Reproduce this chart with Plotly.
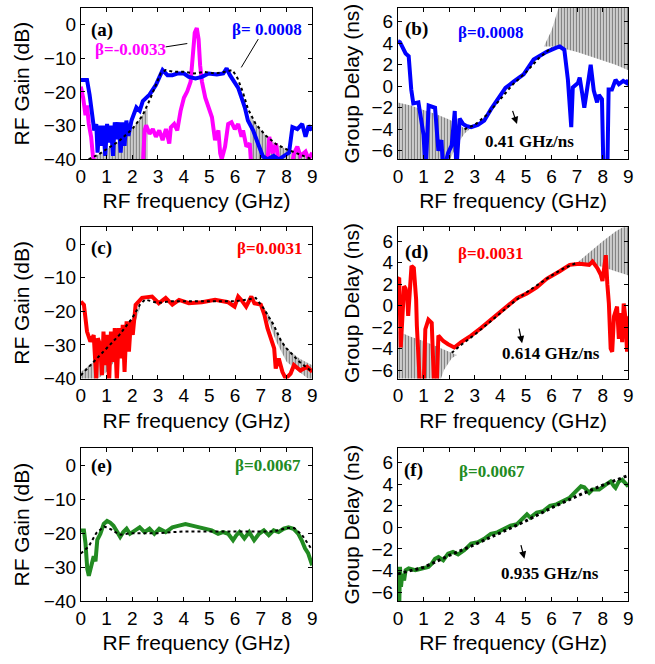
import plotly.graph_objects as go

# ---------------- data ----------------
# (a) RF gain, beta = 0.0008 (measured, blue) and beta = -0.0033 (measured, magenta)
a_blue_x = [0.0, 0.24, 0.34, 0.43, 0.52, 0.6, 0.65, 0.72, 0.8, 0.87, 0.95, 1.02, 1.1, 1.17, 1.25, 1.32, 1.4,
            1.47, 1.55, 1.62, 1.7, 1.77, 1.85, 1.97, 2.16, 2.29, 2.41, 2.67, 2.92, 3.18, 3.37, 3.56, 3.75,
            4.01, 4.2, 4.46, 4.71, 4.97, 5.29, 5.54, 5.67, 5.8, 5.99, 6.12, 6.25, 6.38, 6.5, 6.7, 6.89,
            7.08, 7.27, 7.5, 7.7, 7.9, 8.1, 8.23, 8.42, 8.61, 8.74, 8.86, 9.0]
a_blue_y = [-16.4, -16.4, -20.8, -26.6, -31.4, -29.5, -38, -30, -36, -30, -39, -29.5, -35, -30, -39, -29, -34,
            -29, -38, -29, -36, -28.5, -33, -28.5, -24.6, -25.6, -22.7, -20.8, -17.9, -13.5, -15, -15, -14.5,
            -14.5, -15.5, -16, -15.5, -14.5, -14.8, -14.5, -13, -15, -17.4, -18.8, -21.7, -24.6, -28.5, -31.4, -35.3,
            -39.1, -40, -39, -40, -39, -38, -30.4, -31, -29.5, -33.3, -30, -31.4]
a_mag_x = [0.0, 0.09, 0.18, 0.24, 0.31, 0.4, 0.47, 0.56, 2.41, 2.48, 2.54, 2.67, 2.8, 2.92, 3.05, 3.18, 3.31,
           3.44, 3.5, 3.63, 3.75, 3.88, 4.01, 4.14, 4.27, 4.36, 4.43, 4.51, 4.58, 4.64, 4.71, 4.84, 4.97,
           5.1, 5.22, 5.35, 5.42, 5.48, 5.61, 5.73, 5.86, 5.99, 6.12, 6.25, 6.31, 6.44, 6.57, 6.63, 7.25,
           7.33, 7.46, 7.59, 7.72, 8.2, 8.29, 8.42, 8.54, 8.74, 8.86, 9.0]
a_mag_y = [-18.4, -21.7, -26.9, -24, -29.5, -33.3, -39, -42, -42, -31.4, -29.9, -32.4, -31, -33.3, -31.4, -34.3, -31,
           -35.3, -30.5, -29.5, -31.4, -25.6, -21.7, -19.8, -16.9, -10.1, -2.4, -1, -4.3, -12.1, -16.9, -21.7, -24.6,
           -27.5, -34.3, -31.4, -38.2, -40, -36.2, -29.5, -29, -31, -29.5, -33.3, -31.4, -36.2, -35.3, -42, -42,
           -33.3, -38.2, -35.3, -42, -42, -38.2, -36.2, -39, -37.7, -40, -38]
a_sim_x = [0.3, 0.7, 1.0, 1.5, 2.0, 2.4, 2.7, 2.9, 3.1, 3.3, 3.6, 4.0, 4.4, 4.8, 5.2, 5.6, 5.9, 6.1, 6.3, 6.5,
           6.8, 7.2, 7.6, 8.0, 8.5, 9.0]
a_sim_y = [-40, -38.5, -37, -34.5, -31, -27, -22, -18, -14.5, -13.5, -14, -14, -14.5, -14, -14.5, -14, -13.5,
           -16, -20, -25, -29.5, -33, -35.5, -37, -38.5, -40]
a_hatch_left_x = [0.3, 0.7, 1.0, 1.5, 2.0, 2.4, 2.6]
a_hatch_left_top = [-40, -38.5, -37, -34.5, -31, -27, -24.5]
a_hatch_right_x = [6.6, 6.8, 7.2, 7.6, 8.0, 8.5, 9.0]
a_hatch_right_top = [-27, -29.5, -33, -35.5, -37, -38.5, -40]

# (b) group delay, beta = 0.0008
b_meas_x = [0.0, 0.08, 0.3, 0.42, 0.52, 0.6, 0.8, 1.0, 1.08, 1.2, 1.45, 1.58, 1.7, 1.77, 1.96, 2.1, 2.22, 2.28,
            2.41, 2.54, 2.67, 2.86, 3.12, 3.37, 3.63, 3.88, 4.2, 4.53, 4.91, 5.3, 5.81, 6.19, 6.32, 6.5, 6.64,
            6.77, 6.83, 7.03, 7.1, 7.2, 7.28, 7.46, 7.53, 7.65, 7.78, 7.85, 7.97, 8.03, 8.18, 8.23, 8.36,
            8.5, 8.63, 8.8, 8.94, 9.0]
b_meas_y = [4.2, 4.1, 3.05, 2.8, -0.3, -1.6, -1.5, -4.5, -8, -1.8, -2.0, -6.0, -5.0, -8, -6.2, -5.5, -2.3, -8,
            -3.0, -3.5, -3.7, -3.8, -3.6, -3.2, -2.15, -1.2, -0.15, 0.45, 1.1, 2.5, 3.2, 3.6, 3.7, 3.4, 0.6,
            -3.8, -0.1, 0.3, 0.8, -0.7, -2.0, 0.85, 2.0, -0.4, -1.5, -0.8, -1.2, -8, -8, -0.3, -0.3,
            0.6, 0.2, 0.5, 0.3, 0.6]
b_sim_x = [2.6, 3.0, 3.5, 4.0, 4.5, 5.0, 5.5, 6.0]
b_sim_y = [-4.0, -3.6, -2.6, -1.2, 0.2, 1.3, 2.6, 3.6]
b_hatch_left_x = [0.0, 0.5, 1.0, 1.5, 2.0, 2.3, 2.6, 2.8]
b_hatch_left_top = [-1.5, -1.8, -2.2, -2.6, -3.1, -3.5, -3.9, -4.0]
b_hatch_left_bot = [-8, -8, -8, -8, -7.0, -5.5, -4.4, -4.0]
b_hatch_right_x = [5.7, 6.0, 6.3, 6.5, 7.0, 7.5, 8.0, 8.5, 9.0]
b_hatch_right_top = [3.7, 5.2, 7.5, 8, 8, 8, 8, 8, 8]
b_hatch_right_bot = [3.7, 3.7, 3.6, 3.5, 3.2, 2.8, 2.4, 2.0, 1.5]

# (c) RF gain, beta = 0.0031
c_meas_x = [0.0, 0.12, 0.24, 0.37, 0.5, 0.6, 0.66, 0.75, 0.82, 0.88, 0.95, 1.02, 1.1, 1.17, 1.25, 1.32, 1.4,
            1.48, 1.55, 1.63, 1.7, 1.78, 1.87, 1.95, 2.02, 2.13, 2.38, 2.77, 3.03, 3.3, 3.56, 3.82, 4.2,
            4.71, 5.22, 5.73, 5.98, 6.12, 6.24, 6.43, 6.63, 6.75, 7.0, 7.14, 7.26, 7.39, 7.52, 7.58, 7.7,
            7.84, 7.97, 8.16, 8.29, 8.54, 8.8, 9.0]
c_meas_y = [-17.1, -18.1, -26, -29, -27.1, -40, -28, -30, -39, -26, -36, -27, -41, -26, -35, -25, -41,
            -25, -34, -24, -38, -23, -32, -22.6, -27, -18.1, -16, -15.6, -17.6, -16, -18, -16.6, -17.6,
            -17.3, -16.6, -17.3, -18.6, -15.6, -16.6, -18.6, -15.6, -17.6, -18, -21, -25, -28, -31, -37, -34,
            -38, -40, -38.5, -36, -37.6, -36.5, -38]
c_sim_x = [0.0, 0.5, 1.0, 1.5, 2.0, 2.3, 2.5, 3.0, 3.5, 4.0, 5.0, 6.0, 6.5, 6.8, 7.1, 7.5, 7.8, 8.0, 8.5, 9.0]
c_sim_y = [-39, -35, -31, -27, -22, -18, -16.5, -17.5, -17, -17, -17, -17, -16.5, -16, -19, -24, -29, -31,
           -35, -38]
c_hatch_left_x = [0.0, 0.5, 1.0, 1.5, 2.0, 2.3]
c_hatch_left_top = [-38, -35, -31, -27, -22, -18]
c_hatch_left_bot = [-41, -41, -38, -33, -26, -19]
c_hatch_right_x = [7.0, 7.3, 7.6, 8.0, 8.5, 9.0]
c_hatch_right_top = [-17.5, -21, -26, -31, -34, -36]
c_hatch_right_bot = [-18.5, -23, -29, -35, -38, -41]

# (d) group delay, beta = 0.0031
d_meas_x = [0.0, 0.05, 0.11, 0.24, 0.3, 0.36, 0.4, 0.45, 0.53, 0.62, 0.71, 0.74, 0.81, 0.87, 1.0, 1.07, 1.19,
            1.32, 1.42, 1.51, 1.58, 1.77, 1.96, 2.2, 2.47, 2.86, 3.24, 3.63, 4.01, 4.33, 4.65, 5.04, 5.42,
            5.81, 6.06, 6.32, 6.71, 7.09, 7.47, 7.6, 7.79, 7.92, 7.99, 8.12, 8.18, 8.24, 8.31, 8.37, 8.44,
            8.56, 8.63, 8.69, 8.76, 8.82, 8.88, 8.95, 9.0]
d_meas_y = [2.5, 2.6, -3.9, 1.8, 1.6, 0.85, -0.96, 1.1, 3.7, 3.5, 0.6, -1.9, -5.2, -8, -8, -2.2, -1.3,
            -1.6, -8, -8, -2.8, -3.3, -3.6, -3.9, -3.4, -2.8, -2.1, -1.3, -0.5, 0.1, 0.7, 1.14, 1.7,
            2.5, 2.8, 3.2, 3.8, 3.9, 3.8, 4.1, 3.5, 2.9, 2.3, 4.7, 2.0, 0.2, -4.0, -4.3, -1.0,
            -0.1, -3.1, -0.7, -3.4, 0.2, -1.0, -4.3, -1.0]
d_sim_x = [2.1, 2.5, 3.0, 3.5, 4.0, 4.5, 5.0, 5.5, 6.0, 6.5, 7.0]
d_sim_y = [-4.4, -3.6, -2.7, -1.7, -0.7, 0.3, 1.2, 2.0, 2.8, 3.5, 4.0]
d_hatch_left_x = [0.0, 0.5, 1.0, 1.5, 1.8, 2.1, 2.3]
d_hatch_left_top = [-2.4, -2.9, -3.3, -3.8, -4.1, -4.4, -4.6]
d_hatch_left_bot = [-8, -8, -8, -8, -6.0, -4.9, -4.6]
d_hatch_right_x = [7.0, 7.5, 8.0, 8.5, 8.9, 9.0]
d_hatch_right_top = [4.0, 5.0, 6.0, 6.9, 7.4, 7.6]
d_hatch_right_bot = [4.0, 3.9, 3.6, 3.2, 2.9, 2.8]

# (e) RF gain, beta = 0.0067
e_meas_x = [0.0, 0.12, 0.18, 0.25, 0.31, 0.4, 0.5, 0.57, 0.64, 0.76, 0.89, 1.02, 1.14, 1.27, 1.4, 1.53, 1.65,
            1.78, 1.91, 2.09, 2.29, 2.48, 2.67, 2.86, 3.05, 3.3, 3.56, 3.82, 4.07, 4.33, 4.58, 4.84, 5.09,
            5.34, 5.53, 5.73, 5.92, 6.05, 6.17, 6.36, 6.55, 6.74, 6.93, 7.12, 7.31, 7.5, 7.69, 7.89, 8.08,
            8.27, 8.46, 8.59, 8.72, 8.84, 8.97, 9.0]
e_meas_y = [-19.2, -19.2, -23, -30.6, -32.6, -29.7, -26.8, -28.3, -22, -20.2, -17.3, -16.4, -16.9, -17.8,
            -19.7, -21.1, -19.7, -18.7, -20.2, -19.2, -18.3, -19.7, -18.7, -20.2, -18.7, -19.7, -18.3, -17.8,
            -17.3, -17.8, -18.3, -18.7, -19.2, -20.2, -19.7, -20.2, -22.1, -20.6, -19.7, -21.6, -19.7, -22.1,
            -20.2, -19.2, -20.6, -19.2, -19.7, -18.7, -18.3, -18.7, -20.2, -22.1, -24.5, -25.9, -28.8, -29.5]
e_sim_x = [0.0, 0.3, 0.6, 0.9, 1.2, 1.5, 2.0, 3.0, 4.0, 5.0, 6.0, 7.0, 7.5, 8.0, 8.3, 8.6, 9.0]
e_sim_y = [-26, -24, -20, -18, -19, -20.5, -20, -20, -19.5, -19.5, -19.5, -19.5, -19.5, -18.5, -18.5,
           -20.5, -25]

# (f) group delay, beta = 0.0067
f_meas_x = [0.05, 0.08, 0.12, 0.17, 0.24, 0.3, 0.42, 0.68, 0.94, 1.19, 1.32, 1.45, 1.58, 1.77, 1.96, 2.15,
            2.35, 2.6, 2.86, 3.12, 3.37, 3.63, 3.88, 4.14, 4.4, 4.65, 4.91, 5.04, 5.17, 5.42, 5.68, 5.94,
            6.19, 6.45, 6.71, 6.96, 7.15, 7.28, 7.47, 7.6, 7.86, 8.12, 8.31, 8.44, 8.5, 8.63, 8.76, 8.88, 9.0]
f_meas_y = [-7.5, -3.65, -5.5, -4.3, -4.9, -3.96, -3.8, -3.96, -3.8, -3.65, -3.35, -2.9, -2.74, -3.04, -2.43,
            -2.28, -2.5, -2.1, -1.5, -1.37, -1.06, -0.6, -0.46, -0.15, 0.15, 0.3, 0.9, 1.2, 0.9, 1.37, 1.5,
            1.98, 2.13, 2.43, 2.74, 3.35, 3.8, 3.7, 3.2, 3.5, 3.5, 3.95, 4.25, 3.8, 3.65, 4.25, 4.4, 4.1, 3.8]
f_sim_x = [0.0, 0.5, 1.0, 2.0, 3.0, 4.0, 5.0, 6.0, 7.0, 8.0, 9.0]
f_sim_y = [-4.3, -4.0, -3.7, -2.6, -1.6, -0.5, 0.6, 1.8, 2.9, 3.9, 4.8]

freq_ticks = [0, 1, 2, 3, 4, 5, 6, 7, 8, 9]
gain_ticks = [0, -10, -20, -30, -40]
delay_ticks = [-6, -4, -2, 0, 2, 4, 6]

BLUE = "#0000ff"
MAGENTA = "#ff00ff"
RED = "#ff0000"
GREEN = "#228b22"

fig = go.Figure()


def line(x, y, color, width, ax, dash=None):
    fig.add_trace(go.Scatter(x=x, y=y, mode="lines", xaxis="x" + ax, yaxis="y" + ax,
                             line=dict(color=color, width=width, dash=dash), showlegend=False,
                             hoverinfo="skip"))


def hatch(x, top, bot, ax):
    px = list(x) + list(reversed(x))
    py = list(top) + list(reversed(bot))
    fig.add_trace(go.Scatter(x=px, y=py, mode="lines", fill="toself", xaxis="x" + ax, yaxis="y" + ax,
                             line=dict(width=0, color="rgba(0,0,0,0)"), fillcolor="white",
                             fillpattern=dict(shape="|", fgcolor="black", bgcolor="white", size=3,
                                              solidity=0.6),
                             showlegend=False, hoverinfo="skip"))


# panel a
hatch(a_hatch_left_x, a_hatch_left_top, [-41] * len(a_hatch_left_x), "1")
hatch(a_hatch_right_x, a_hatch_right_top, [-41] * len(a_hatch_right_x), "1")
line(a_mag_x, a_mag_y, MAGENTA, 4, "1")
line(a_blue_x, a_blue_y, BLUE, 4, "1")
line(a_sim_x, a_sim_y, "black", 2, "1", "dot")
# panel b
hatch(b_hatch_left_x, b_hatch_left_top, b_hatch_left_bot, "2")
hatch(b_hatch_right_x, b_hatch_right_top, b_hatch_right_bot, "2")
line(b_meas_x, b_meas_y, BLUE, 4, "2")
line(b_sim_x, b_sim_y, "black", 2, "2", "dot")
# panel c
hatch(c_hatch_left_x, c_hatch_left_top, c_hatch_left_bot, "3")
hatch(c_hatch_right_x, c_hatch_right_top, c_hatch_right_bot, "3")
line(c_meas_x, c_meas_y, RED, 4, "3")
line(c_sim_x, c_sim_y, "black", 2, "3", "dot")
# panel d
hatch(d_hatch_left_x, d_hatch_left_top, d_hatch_left_bot, "4")
hatch(d_hatch_right_x, d_hatch_right_top, d_hatch_right_bot, "4")
line(d_meas_x, d_meas_y, RED, 4, "4")
line(d_sim_x, d_sim_y, "black", 2, "4", "dot")
# panel e
line(e_meas_x, e_meas_y, GREEN, 4, "5")
line(e_sim_x, e_sim_y, "black", 2, "5", "dot")
# panel f
line(f_meas_x, f_meas_y, GREEN, 4, "6")
line(f_sim_x, f_sim_y, "black", 3, "6", "dot")

TICKFONT = dict(family="Liberation Sans, Arial, sans-serif", size=19, color="black")
TITLEFONT = dict(family="Liberation Sans, Arial, sans-serif", size=21, color="black")

xdom_left = [0.1176, 0.4763]
xdom_right = [0.6092, 0.9664]
ydoms = [[0.7560, 0.9880], [0.4202, 0.6520], [0.0798, 0.3133]]

layout = dict(width=655, height=664, margin=dict(l=0, r=0, t=0, b=0),
              paper_bgcolor="white", plot_bgcolor="white", showlegend=False)


def axis_common():
    return dict(showline=True, linecolor="black", linewidth=1, mirror="ticks", ticks="inside",
                ticklen=4, tickcolor="black", showgrid=False, zeroline=False, tickfont=TICKFONT)


for i in range(6):
    n = str(i + 1)
    key = "" if i == 0 else n
    col = i % 2
    row = i // 2
    xa = axis_common()
    xa.update(domain=xdom_left if col == 0 else xdom_right, range=[0, 9], tickvals=freq_ticks,
              anchor="y" + key, title=dict(text="RF frequency (GHz)", font=TITLEFONT, standoff=7))
    ya = axis_common()
    if col == 0:
        ya.update(range=[-40, 5], tickvals=gain_ticks,
                  title=dict(text="RF Gain (dB)", font=TITLEFONT, standoff=8))
    else:
        ya.update(range=[-6.8, 7.3], tickvals=delay_ticks,
                  title=dict(text="Group Delay (ns)", font=TITLEFONT, standoff=6))
    ya.update(domain=ydoms[row], anchor="x" + key)
    layout["xaxis" + key] = xa
    layout["yaxis" + key] = ya

fig.update_layout(**layout)

SERIF = "Liberation Serif, Times New Roman, serif"


def label(text, x, y, ax, color="black", size=17):
    fig.add_annotation(text="<b>" + text + "</b>", x=x, y=y, xref="x" + ax, yref="y" + ax,
                       showarrow=False, font=dict(family=SERIF, size=size, color=color))


label("(a)", 0.82, -1.5, "1", size=19)
label("β=-0.0033", 1.95, -7.4, "1", MAGENTA)
label("β= 0.0008", 7.25, -1.5, "1", BLUE)
label("(b)", 0.74, 5.3, "2", size=19)
label("β=0.0008", 3.63, 5.0, "2", BLUE)
label("0.41 GHz/ns", 5.13, -5.1, "2")
label("(c)", 0.8, -1.2, "3", size=19)
label("β=0.0031", 7.33, -1.2, "3", RED)
label("(d)", 0.74, 5.0, "4", size=19)
label("β=0.0031", 3.63, 4.9, "4", RED)
label("0.614 GHz/ns", 5.96, -4.5, "4")
label("(e)", 0.82, -0.3, "5", size=19)
label("β=0.0067", 7.27, 0.0, "5", GREEN)
label("(f)", 0.62, 5.3, "6", size=19)
label("β=0.0067", 3.69, 5.2, "6", GREEN)
label("0.935 GHz/ns", 5.93, -4.25, "6")

# leader lines in (a)
fig.add_shape(type="line", x0=3.3, y0=-6.6, x1=4.14, y1=-5.6, xref="x", yref="y",
              line=dict(color="black", width=1))
fig.add_shape(type="line", x0=6.9, y0=-4.3, x1=6.24, y1=-12.7, xref="x", yref="y",
              line=dict(color="black", width=1))

# slope arrows
for ax, (tx, ty, hx, hy) in {"2": (4.46, -2.15, 4.65, -3.5), "4": (4.72, -2.0, 4.85, -3.5),
                              "6": (4.79, -1.5, 4.94, -2.9)}.items():
    fig.add_annotation(x=hx, y=hy, ax=tx, ay=ty, xref="x" + ax, yref="y" + ax, axref="x" + ax,
                       ayref="y" + ax, showarrow=True, arrowhead=2, arrowsize=1.2, arrowwidth=1.2,
                       arrowcolor="black", text="")

fig.write_html("out.html")
